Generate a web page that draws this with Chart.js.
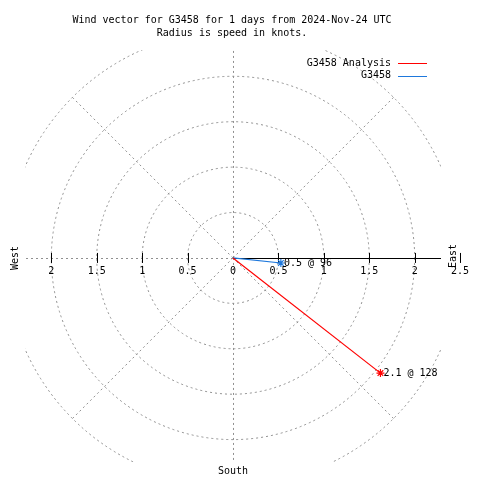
<!DOCTYPE html>
<html>
<head>
<meta charset="utf-8">
<script src="https://cdn.jsdelivr.net/npm/chart.js@4/dist/chart.umd.min.js"></script>
<style>
  html, body { margin: 0; padding: 0; background: #fff; }
  canvas { display: block; }
</style>
</head>
<body>
<canvas id="chart-area" width="480" height="480"></canvas>
<script>
// wind vectors: speed (knots) and direction (degrees, from north clockwise)
var seriesNames = ["G3458 Analysis", "G3458"];
var speeds = [2.06, 0.53];
var directions = [128, 96];
var seriesColors = ["#ff0000", "#1e78dc"];

// polar grid
var gridRadii = [0.5, 1, 1.5, 2, 2.5];
var gridAngles = [0, 45, 90, 135, 180, 225, 270, 315];
var tickValues = [-2, -1.5, -1, -0.5, 0.5, 1, 1.5, 2];
var tickLabels = ["2", "1.5", "1", "0.5", "0", "0.5", "1", "1.5", "2"];
var tickLabelValues = [-2, -1.5, -1, -0.5, 0, 0.5, 1, 1.5, 2];

var title = ["Wind vector for G3458 for 1 days from 2024-Nov-24 UTC", "Radius is speed in knots."];
var FONT = "10px 'DejaVu Sans Mono', monospace";
var GRID = "#8f8f8f";

function vectorData(i) {
  var a = directions[i] * Math.PI / 180;
  return [{x: 0, y: 0}, {x: speeds[i] * Math.sin(a), y: speeds[i] * Math.cos(a)}];
}

var datasets = seriesNames.map(function(name, i) {
  return {
    label: name,
    data: vectorData(i),
    showLine: true,
    borderColor: seriesColors[i],
    borderWidth: 1.2,
    pointStyle: 'star',
    pointRadius: [0, 4],
    pointBorderColor: seriesColors[i],
    pointBorderWidth: 1.2,
    pointBackgroundColor: seriesColors[i]
  };
});

var polarGrid = {
  id: 'polarGrid',
  beforeDatasetsDraw: function(chart) {
    var ctx = chart.ctx, area = chart.chartArea;
    var sx = chart.scales.x, sy = chart.scales.y;
    var cx = sx.getPixelForValue(0), cy = sy.getPixelForValue(0);
    var unit = sx.getPixelForValue(1) - cx;
    var rMax = gridRadii[gridRadii.length - 1] * unit;

    ctx.save();
    ctx.beginPath();
    ctx.rect(area.left, area.top, area.right - area.left, area.bottom - area.top);
    ctx.clip();
    ctx.strokeStyle = GRID;
    ctx.lineWidth = 1;
    ctx.setLineDash([2, 3]);
    gridRadii.forEach(function(r) {
      ctx.beginPath();
      ctx.arc(cx, cy, r * unit, 0, Math.PI * 2);
      ctx.stroke();
    });
    gridAngles.forEach(function(deg) {
      if (deg === 90) return; // east half is the solid axis
      var a = deg * Math.PI / 180;
      var ox = (deg % 180 === 0) ? Math.round(cx) + 0.5 : cx;
      var oy = (deg % 180 === 90) ? Math.round(cy) + 0.5 : cy;
      ctx.beginPath();
      ctx.moveTo(ox, oy);
      ctx.lineTo(ox + Math.sin(a) * rMax, oy - Math.cos(a) * rMax);
      ctx.stroke();
    });
    ctx.restore();

    // solid axis to the east
    ctx.save();
    ctx.strokeStyle = "#000";
    ctx.lineWidth = 1;
    ctx.beginPath();
    ctx.moveTo(cx, Math.round(cy) + 0.5);
    ctx.lineTo(area.right, Math.round(cy) + 0.5);
    ctx.stroke();
    tickValues.concat([2.5]).forEach(function(v) {
      var x = Math.round(sx.getPixelForValue(v)) + 0.5;
      ctx.beginPath();
      ctx.moveTo(x, cy - 5);
      ctx.lineTo(x, cy + 5);
      ctx.stroke();
    });
    ctx.restore();
  },
  afterDatasetsDraw: function(chart) {
    var ctx = chart.ctx;
    var sx = chart.scales.x, sy = chart.scales.y;
    var cx = sx.getPixelForValue(0), cy = sy.getPixelForValue(0);

    ctx.save();
    ctx.font = FONT;
    ctx.fillStyle = "#000";
    ctx.textBaseline = "middle";

    ctx.textAlign = "center";
    ctx.fillText(title[0], 232, 20);
    ctx.fillText(title[1], 232, 33);

    tickLabels.forEach(function(t, i) {
      ctx.fillText(t, sx.getPixelForValue(tickLabelValues[i]), cy + 13);
    });
    ctx.fillText("2.5", sx.getPixelForValue(2.5), cy + 13);
    ctx.fillText("South", cx, 471);

    ctx.save();
    ctx.translate(15, cy);
    ctx.rotate(-Math.PI / 2);
    ctx.fillText("West", 0, 0);
    ctx.restore();
    ctx.save();
    ctx.translate(453, cy - 2);
    ctx.rotate(-Math.PI / 2);
    ctx.fillText("East", 0, 0);
    ctx.restore();

    // vector end labels
    ctx.textAlign = "left";
    seriesNames.forEach(function(name, i) {
      var p = vectorData(i)[1];
      ctx.fillText(speeds[i].toFixed(1) + " @ " + directions[i],
        sx.getPixelForValue(p.x) + 3, sy.getPixelForValue(p.y));
    });

    // legend
    ctx.textAlign = "right";
    seriesNames.forEach(function(name, i) {
      var y = 63 + i * 12.5;
      ctx.fillStyle = "#000";
      ctx.fillText(name, 391, y);
      ctx.strokeStyle = seriesColors[i];
      ctx.lineWidth = 1;
      ctx.beginPath();
      ctx.moveTo(398, Math.round(y) + 0.5);
      ctx.lineTo(427, Math.round(y) + 0.5);
      ctx.stroke();
    });
    ctx.restore();
  }
};

var ctx = document.getElementById("chart-area").getContext("2d");
var windChart = new Chart(ctx, {
  type: 'scatter',
  data: { datasets: datasets },
  options: {
    responsive: false,
    animation: false,
    layout: { padding: { left: 25, right: 39, top: 50, bottom: 18 } },
    plugins: {
      legend: { display: false },
      title: { display: false },
      tooltip: { enabled: false }
    },
    scales: {
      x: { type: 'linear', min: -2.29, max: 2.29, display: false },
      y: { type: 'linear', min: -2.247, max: 2.29, display: false }
    }
  },
  plugins: [polarGrid]
});
</script>
</body>
</html>
